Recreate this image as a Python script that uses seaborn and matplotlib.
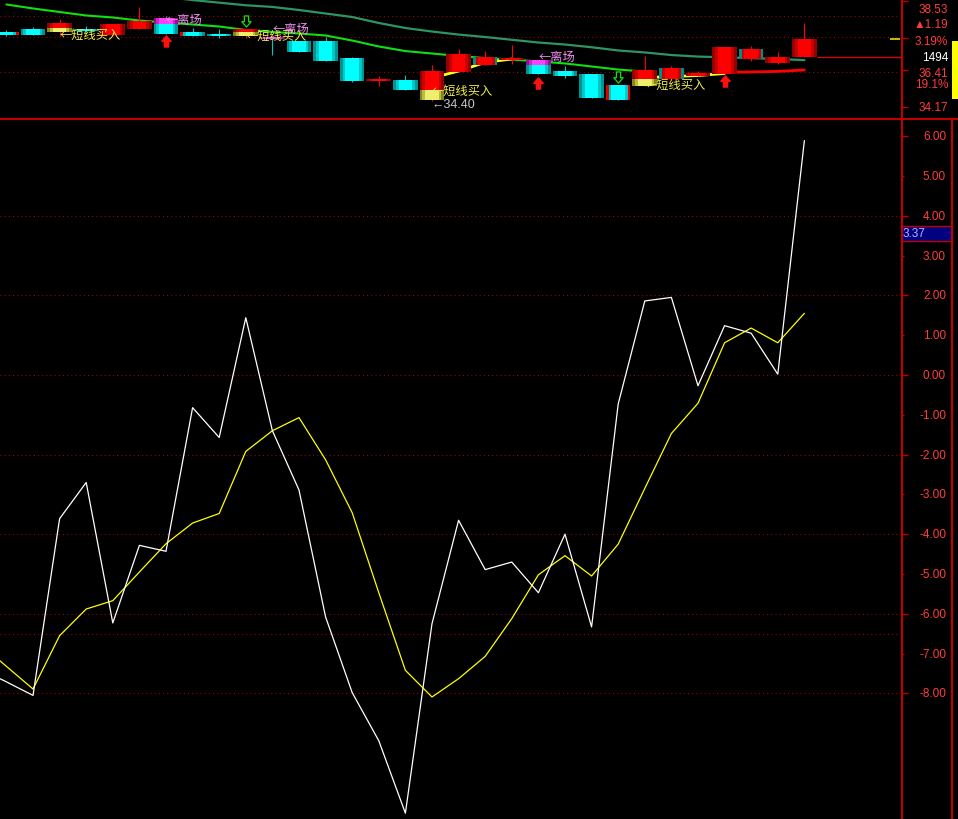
import numpy as np
import pandas as pd
import matplotlib
matplotlib.use("Agg")
import matplotlib.pyplot as plt
import matplotlib.transforms as mtrans
import seaborn as sns
from matplotlib.path import Path
from matplotlib.lines import Line2D
from matplotlib.patches import Rectangle
from matplotlib.colors import to_rgb

# ---------------- data ----------------
bars = list(range(31))
opens = [38.95, 39.15, 38.95, 39.15, 38.75, 39.15, 39.87, 38.95, 38.82, 38.69,
         38.62, 38.36, 38.36, 37.24, 35.80, 35.80, 34.50, 36.33, 36.79, 37.14,
         37.11, 36.39, 36.20, 35.48, 35.41, 35.87, 36.07, 36.20, 37.18, 36.92, 37.30]
highs = [39.08, 39.28, 39.80, 39.34, 39.47, 40.59, 39.99, 39.21, 39.15, 39.15,
         38.62, 38.36, 38.62, 37.31, 36.07, 36.13, 36.79, 37.84, 37.70, 38.10,
         37.11, 36.72, 36.20, 35.48, 37.38, 36.72, 36.39, 37.97, 38.03, 37.64, 39.54]
lows = [38.69, 38.75, 38.69, 38.95, 38.75, 39.15, 38.82, 38.69, 38.56, 38.56,
        37.44, 37.64, 37.05, 35.67, 35.41, 35.15, 34.40, 36.33, 36.79, 36.85,
        36.20, 35.94, 34.63, 34.47, 35.41, 35.80, 36.07, 36.20, 37.05, 36.85, 37.30]
closes = [38.75, 38.75, 39.54, 39.01, 39.47, 39.67, 38.82, 38.69, 38.69, 39.15,
          38.49, 37.64, 37.05, 35.74, 35.83, 35.15, 36.39, 37.51, 37.31, 37.20,
          36.20, 36.07, 34.63, 34.49, 36.46, 36.59, 36.26, 37.97, 37.84, 37.30, 38.49]

ma_fast_x = list(range(0, 25))
ma_fast = [40.75, 40.49, 40.26, 40.03, 39.90, 39.70, 39.57, 39.44, 39.31, 39.08,
           38.95, 38.85, 38.72, 38.39, 38.00, 37.70, 37.54, 37.38, 37.24, 37.15,
           37.02, 36.89, 36.69, 36.49, 36.36]
ma_slow_x = list(range(5, 31))
ma_slow = [41.44, 41.24, 41.04, 40.87, 40.70, 40.59, 40.39, 40.16, 39.93, 39.54,
           39.21, 38.98, 38.78, 38.62, 38.44, 38.26, 38.13, 37.95, 37.74, 37.61,
           37.44, 37.34, 37.29, 37.24, 37.18, 37.11]

sig1_x = [16, 17, 18, 19]
sig1 = [35.94, 36.39, 36.96, 37.18]
sig2_x = [24, 25, 26, 27]
sig2 = [35.97, 36.03, 36.10, 36.23]
sig3_x = [27, 28, 29, 30]
sig3 = [36.30, 36.33, 36.37, 36.46]

buy_idx = [2, 9, 16, 24]
buy_frac = [0.44, 0.5, 0.34, 0.44]
buy_text_y = [38.82, 38.75, 35.15, 35.54]
exit_idx = [6, 10, 20]
exit_frac = [0.375, 1.0, 0.36]
exit_text_y = [39.80, 39.21, 37.34]
up_arrow_idx = [6, 20, 27]
up_arrow_y = [38.39, 35.64, 35.77]
down_arrow_idx = [9, 23]
down_arrow_y = [39.64, 36.03]
low_label_y = 34.23

grid_top = [39.98, 38.60, 36.31]
top_ticks = [40.98, 38.56, 36.46, 34.04]
top_labels = ["38.53", "▲1.19", "3.19%", "1494", "36.41", "19.1%", "34.17"]
top_label_py = [10, 25, 42, 58, 74, 85, 108]
top_label_colors = ["#ff3c3c", "#ff3c3c", "#ff3c3c", "#ffffff", "#ff3c3c", "#ff3c3c", "#ff3c3c"]

osc_x = list(range(-1, 31))
osc_white = [-7.38, -7.71, -8.05, -3.61, -2.70, -6.23, -4.28, -4.43, -0.82, -1.57,
             1.44, -1.40, -2.89, -6.08, -7.98, -9.19, -11.01, -6.25, -3.65, -4.89,
             -4.70, -5.47, -4.00, -6.33, -0.73, 1.86, 1.95, -0.27, 1.24, 1.05, 0.02, 5.89]
osc_yellow = [-6.75, -7.32, -7.89, -6.55, -5.88, -5.67, -4.95, -4.24, -3.72, -3.48,
              -1.92, -1.40, -1.07, -2.13, -3.46, -5.47, -7.42, -8.09, -7.63, -7.07,
              -6.12, -5.02, -4.54, -5.05, -4.25, -2.85, -1.47, -0.71, 0.81, 1.18, 0.81, 1.55]
osc_ticks = list(range(6, -9, -1))
osc_grid = [4, 2, 0, -2, -4, -6, -6.5, -8]
cursor_value = "3.37"

# ---------------- style ----------------
sns.set_theme(style="dark", rc={"figure.facecolor": "black", "axes.facecolor": "black",
                                "savefig.facecolor": "black", "axes.unicode_minus": False})
plt.rcParams["font.family"] = ["Liberation Sans", "DejaVu Sans"]
CJK = ["Noto Sans CJK SC", "DejaVu Sans"]
AXRED = "#c00000"
LBLRED = "#ff3c3c"
GRIDRED = "#a80000"

W, H = 958, 820
fig = plt.figure(figsize=(W / 100, H / 100), dpi=100)


def fx(px):
    return px / W


def fy(py):
    return 1 - py / H


XL = (-0.2406, 33.67)
ax1 = fig.add_axes([0, fy(118.5), fx(902), 118.5 / H])
ax2 = fig.add_axes([0, 0, fx(902), (H - 120.5) / H])
for ax in (ax1, ax2):
    ax.set_facecolor("black")
    ax.set_xlim(*XL)
    ax.set_xticks([])
    for s in ("top", "left", "bottom"):
        ax.spines[s].set_visible(False)
    ax.spines["right"].set_visible(True)
    ax.spines["right"].set_color(AXRED)
    ax.spines["right"].set_linewidth(1.5)
    ax.yaxis.tick_right()
    ax.grid(False)

ax1.set_ylim(33.35, 41.11)
ax2.set_ylim(-11.156, 6.42)

# ---------------- top panel ----------------
for g in grid_top:
    ax1.axhline(g, xmin=0, xmax=0.998, color=GRIDRED, lw=0.75, linestyle=(0, (1, 3)), zorder=1)

ax1.set_yticks(top_ticks, labels=[""] * len(top_ticks))
ax1.tick_params(axis="y", which="major", length=4, width=1, color=AXRED, direction="out")

sns.lineplot(x=ma_slow_x, y=ma_slow, ax=ax1, color="#2f9464", lw=1.6, zorder=2)
sns.lineplot(x=ma_fast_x, y=ma_fast, ax=ax1, color="#10e010", lw=1.5, zorder=2)
sns.lineplot(x=sig1_x, y=sig1, ax=ax1, color="#ffff20", lw=2.0, zorder=2)
sns.lineplot(x=sig2_x, y=sig2, ax=ax1, color="#ffff20", lw=2.0, zorder=2)
sns.lineplot(x=sig3_x, y=sig3, ax=ax1, color="#ff0000", lw=2.0, zorder=2)


def blend(c1, c2, t):
    a, b = np.array(to_rgb(c1)), np.array(to_rgb(c2))
    return tuple(a + (b - a) * t)


NSTRIP = 9
BW = 0.92
PAL_RED = ("#780000", "#ff0000")
PAL_CYAN = ("#007878", "#00ffff")
PAL_YEL = ("#6e6e00", "#eeee70")
PAL_MAG = ("#7a007a", "#ff40ff")
edge_left = {7: "#e00000", 23: "#e00000", 18: "#008c8c", 25: "#008c8c", 28: "#008c8c"}
edge_right = {0: "#e00000", 23: "#e00000", 18: "#008c8c", 25: "#008c8c", 28: "#008c8c"}


def strip_colors(edge, center):
    out = []
    for k in range(NSTRIP):
        pos = (k + 0.5) / NSTRIP
        t = 1 - abs(2 * pos - 1)
        out.append(blend(edge, center, min(1.0, t * 1.8)))
    return out


def body(ax, x, y0, y1, pal, left=None, right=None):
    cols = strip_colors(*pal)
    if left:
        cols[0] = left
    if right:
        cols[-1] = right
    w = BW / NSTRIP
    xs = [x - BW / 2 + (k + 0.5) * w for k in range(NSTRIP)]
    ax.bar(xs, [y1 - y0] * NSTRIP, bottom=y0, width=w * 1.05, color=cols,
           linewidth=0, zorder=4)


MINB = 0.1
for i, o, h, l, c in zip(bars, opens, highs, lows, closes):
    up = c >= o
    lo, hi = min(o, c), max(o, c)
    if hi - lo < MINB:
        mid = (lo + hi) / 2
        lo, hi = mid - MINB / 2, mid + MINB / 2
    ax1.vlines(i, l, h, color="#ff0000" if up else "#00c8c8", lw=0.8, zorder=3)
    L, R = edge_left.get(i), edge_right.get(i)
    if up:
        if i in buy_idx:
            f = buy_frac[buy_idx.index(i)]
            split = lo + (hi - lo) * f
            body(ax1, i, lo, split, PAL_YEL, L, R)
            body(ax1, i, split, hi, PAL_RED, L, R)
        else:
            body(ax1, i, lo, hi, PAL_RED, L, R)
    else:
        if i in exit_idx:
            f = exit_frac[exit_idx.index(i)]
            split = hi - (hi - lo) * f
            body(ax1, i, lo, split, PAL_CYAN, L, R)
            body(ax1, i, split, hi, PAL_MAG, L, R)
        else:
            body(ax1, i, lo, hi, PAL_CYAN, L, R)

# price line and current marker
ax1.hlines(closes[-2], 30.48, XL[1], colors="#e00000", lw=0.9, zorder=3)
ax1.hlines(closes[-1], 33.22, 33.6, colors="#e0e000", lw=1.2, zorder=3)

# signal arrows
up_path = Path([(0, 0.5), (0.42, 0.02), (0.19, 0.02), (0.19, -0.5), (-0.19, -0.5),
                (-0.19, 0.02), (-0.42, 0.02), (0, 0.5)], closed=True)
down_path = Path([(x, -y) for x, y in up_path.vertices], closed=True)
ax1.plot(up_arrow_idx, up_arrow_y, ls="none", marker=up_path, markersize=8,
         color="#ff1010", zorder=6)
ax1.plot(down_arrow_idx, down_arrow_y, ls="none", marker=down_path, markersize=8,
         markerfacecolor="none", markeredgecolor="#10e010", markeredgewidth=0.9, zorder=6)

for i, yv in zip(buy_idx, buy_text_y):
    ax1.text(i, yv, "←短线买入", color="#f0f048", fontsize=8.8, family=CJK,
             va="center", ha="left", zorder=7)
for i, yv in zip(exit_idx, exit_text_y):
    ax1.text(i, yv, "←离场", color="#f08cf0", fontsize=8.8, family=CJK,
             va="center", ha="left", zorder=7)
low_i = int(np.argmin(lows))
ax1.text(low_i, low_label_y, f"←{min(lows):.2f}", color="#c8c8c8", fontsize=9,
         va="center", ha="left", zorder=7)

for txt, py, col in zip(top_labels, top_label_py, top_label_colors):
    fig.text(fx(948), fy(py), txt, color=col, fontsize=8.5, ha="right", va="center")

# ---------------- bottom panel ----------------
for g in osc_grid:
    ax2.axhline(g, xmin=0, xmax=0.998, color=GRIDRED, lw=0.75, linestyle=(0, (1, 3)), zorder=1)

df = pd.DataFrame({"bar": osc_x, "white": osc_white, "yellow": osc_yellow})
sns.lineplot(data=df, x="bar", y="yellow", ax=ax2, color="#ffff00", lw=0.9, zorder=3)
sns.lineplot(data=df, x="bar", y="white", ax=ax2, color="#ffffff", lw=0.9, zorder=4)
ax2.set_xlabel("")
ax2.set_ylabel("")
ax1.set_xlabel("")
ax1.set_ylabel("")

major = [v for v in osc_ticks if v % 2 == 0]
minor = [v for v in osc_ticks if v % 2 != 0]
ax2.set_yticks(major, labels=[""] * len(major))
ax2.set_yticks(minor, labels=[""] * len(minor), minor=True)
ax2.tick_params(axis="y", which="major", length=4, width=1, color=AXRED, direction="out")
ax2.tick_params(axis="y", which="minor", length=1.6, width=1, color=AXRED, direction="out")
ax2.set_xlim(*XL)
ax2.set_ylim(-11.156, 6.42)
ax1.set_xlim(*XL)
ax1.set_ylim(33.35, 41.11)

tr = mtrans.blended_transform_factory(fig.transFigure, ax2.transData)
for v in osc_ticks:
    fig.text(fx(946), v, f"{v:.2f}", transform=tr, color=LBLRED, fontsize=8.5,
             ha="right", va="center")

# cursor value box
fig.add_artist(Rectangle((fx(902), fy(242)), fx(50), 15 / H, transform=fig.transFigure,
                         facecolor="#000080", edgecolor=AXRED, lw=1))
fig.text(fx(903), fy(234.5), cursor_value, color="#b4b4ff", fontsize=8.5, ha="left", va="center")

# frame lines
fig.add_artist(Line2D([0, 1], [fy(119.5)] * 2, transform=fig.transFigure, color=AXRED, lw=1.5))
fig.add_artist(Line2D([fx(952)] * 2, [0, fy(120)], transform=fig.transFigure, color=AXRED, lw=1.5))
fig.add_artist(Rectangle((fx(952), fy(100)), fx(6), 58 / H, transform=fig.transFigure,
                         facecolor="#ffff00", edgecolor="none"))

fig.savefig("out.png", dpi=100, facecolor="black")
